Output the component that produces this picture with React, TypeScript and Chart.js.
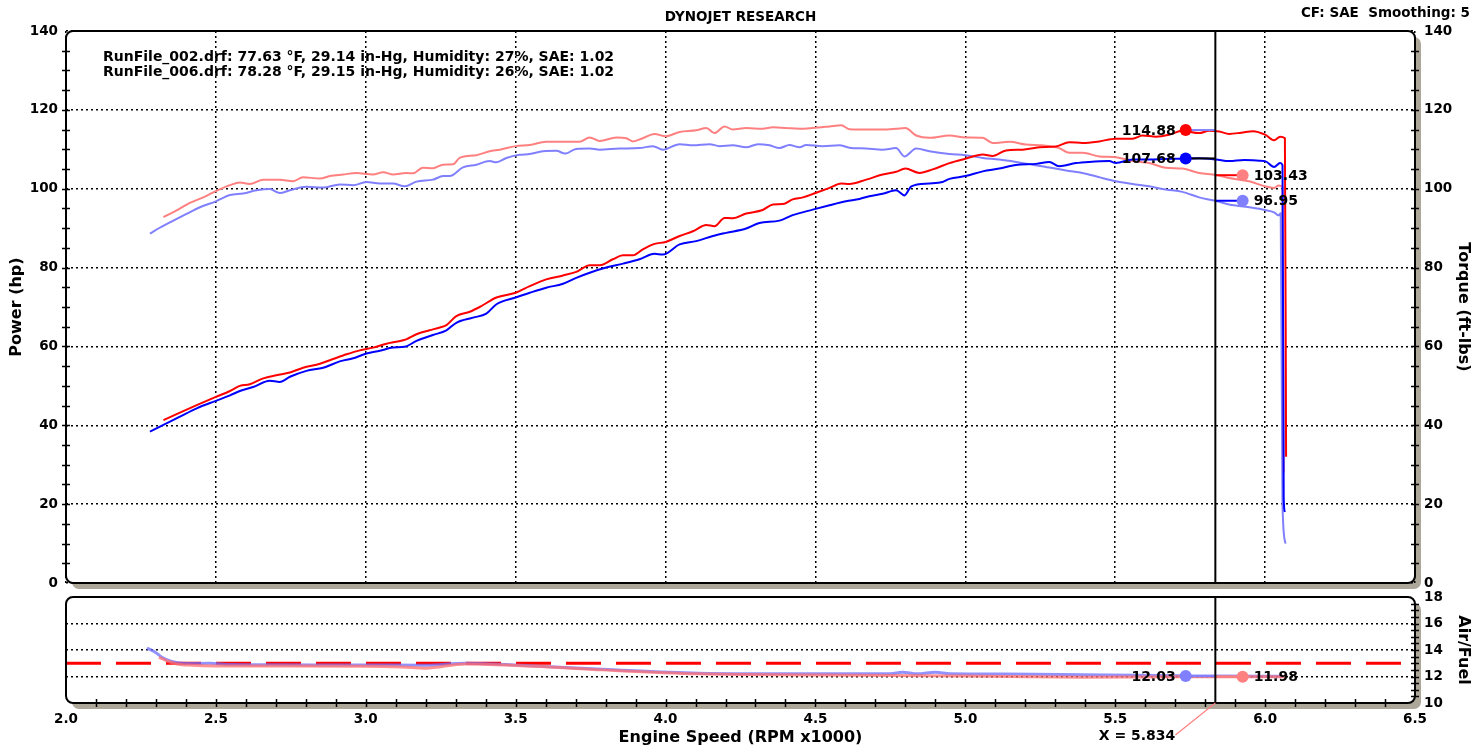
import React, { useEffect, useRef } from "react";
import { Chart, registerables } from "chart.js";

Chart.register(...registerables);

const FONT_FAMILY = "'DejaVu Sans', Verdana, sans-serif";

// ---------- Data (RPM x1000) ----------
// RunFile_002 power (hp)
const rpmHp002 = [2.325, 2.38, 2.436, 2.5, 2.547, 2.58, 2.613, 2.658, 2.702, 2.747, 2.791, 2.847, 2.891, 2.936, 2.98, 3.024, 3.069, 3.102, 3.135, 3.169, 3.213, 3.247, 3.269, 3.302, 3.347, 3.38, 3.436, 3.5, 3.547, 3.602, 3.658, 3.702, 3.747, 3.78, 3.824, 3.858, 3.891, 3.924, 3.963, 4.0, 4.047, 4.091, 4.136, 4.163, 4.197, 4.224, 4.269, 4.324, 4.358, 4.391, 4.424, 4.458, 4.5, 4.547, 4.586, 4.613, 4.669, 4.724, 4.769, 4.8, 4.847, 4.891, 4.947, 5.0, 5.058, 5.091, 5.136, 5.191, 5.247, 5.302, 5.347, 5.391, 5.447, 5.502, 5.558, 5.591, 5.636, 5.68, 5.724, 5.78, 5.813, 5.847, 5.88, 5.92, 5.96, 6.0, 6.03, 6.05, 6.066, 6.07];
const hp002 = [41.3, 43.2, 45.1, 47.2, 48.7, 50.0, 50.4, 51.9, 52.7, 53.4, 54.6, 55.6, 56.8, 58.0, 59.0, 59.7, 60.7, 61.2, 61.8, 63.1, 64.1, 64.8, 65.4, 67.7, 68.8, 70.0, 72.4, 73.6, 75.3, 77.0, 78.0, 78.9, 80.6, 80.6, 82.1, 83.1, 83.1, 84.6, 86.0, 86.5, 88.0, 89.2, 90.8, 90.5, 92.6, 92.5, 93.7, 94.6, 96.0, 96.1, 97.3, 97.8, 98.9, 100.2, 101.3, 101.2, 102.3, 103.6, 104.3, 105.1, 104.0, 104.9, 106.5, 107.6, 108.7, 108.3, 109.7, 109.9, 110.5, 110.7, 111.8, 111.6, 112.0, 112.7, 112.7, 113.5, 113.2, 113.7, 114.7, 114.1, 114.7, 114.5, 113.9, 114.2, 114.6, 113.7, 112.3, 113.2, 112.8, 32.0];

// RunFile_006 power (hp)
const rpmHp006 = [2.28, 2.325, 2.38, 2.436, 2.5, 2.547, 2.58, 2.624, 2.68, 2.713, 2.747, 2.802, 2.858, 2.913, 2.958, 3.002, 3.047, 3.091, 3.13, 3.169, 3.224, 3.269, 3.302, 3.358, 3.402, 3.436, 3.5, 3.547, 3.602, 3.658, 3.702, 3.747, 3.802, 3.858, 3.913, 3.963, 3.991, 4.047, 4.102, 4.158, 4.202, 4.269, 4.313, 4.38, 4.424, 4.491, 4.547, 4.602, 4.647, 4.68, 4.724, 4.769, 4.797, 4.82, 4.88, 4.924, 4.947, 5.0, 5.058, 5.113, 5.169, 5.236, 5.28, 5.313, 5.369, 5.413, 5.48, 5.502, 5.558, 5.613, 5.68, 5.724, 5.78, 5.836, 5.88, 5.93, 5.98, 6.0, 6.03, 6.05, 6.058, 6.062, 6.066];
const hp006 = [38.4, 40.1, 42.2, 44.3, 46.2, 47.6, 48.7, 49.7, 51.3, 51.0, 52.3, 53.8, 54.6, 56.2, 57.0, 58.2, 58.9, 59.7, 59.9, 61.4, 62.9, 64.1, 66.0, 67.3, 68.3, 70.7, 72.4, 73.6, 74.9, 75.9, 77.4, 78.7, 80.0, 81.0, 82.1, 83.5, 83.3, 85.9, 86.7, 88.0, 88.8, 89.9, 91.3, 91.9, 93.3, 94.7, 95.8, 96.8, 97.4, 98.1, 98.7, 99.6, 98.3, 100.6, 101.3, 101.7, 102.5, 103.2, 104.4, 105.1, 106.0, 106.3, 106.8, 105.7, 106.5, 106.8, 107.0, 106.5, 107.4, 107.4, 107.6, 107.6, 107.7, 107.4, 107.0, 107.3, 107.1, 107.0, 105.5, 106.5, 106.0, 21.5, 18.0];

// RunFile_002 torque (ft-lbs)
const rpmTq002 = [2.325, 2.369, 2.413, 2.458, 2.5, 2.547, 2.58, 2.613, 2.658, 2.713, 2.758, 2.79, 2.847, 2.88, 2.924, 2.969, 3.024, 3.058, 3.091, 3.135, 3.158, 3.19, 3.224, 3.258, 3.291, 3.313, 3.369, 3.413, 3.447, 3.5, 3.547, 3.602, 3.658, 3.713, 3.747, 3.78, 3.836, 3.869, 3.891, 3.924, 3.963, 4.0, 4.047, 4.102, 4.136, 4.163, 4.197, 4.224, 4.269, 4.324, 4.358, 4.402, 4.447, 4.491, 4.547, 4.586, 4.613, 4.669, 4.724, 4.769, 4.8, 4.836, 4.88, 4.947, 5.0, 5.058, 5.091, 5.147, 5.202, 5.258, 5.313, 5.347, 5.391, 5.447, 5.502, 5.558, 5.613, 5.669, 5.724, 5.78, 5.836, 5.88, 5.947, 6.0, 6.03, 6.045, 6.058, 6.062];
const tq002 = [92.8, 94.5, 96.4, 97.8, 99.4, 100.9, 101.6, 101.2, 102.3, 102.3, 101.9, 102.9, 102.6, 103.2, 103.6, 104.0, 103.6, 104.2, 103.6, 104.0, 103.9, 105.3, 105.2, 106.1, 106.2, 107.8, 108.5, 109.5, 109.9, 110.8, 111.1, 111.9, 111.9, 111.9, 113.0, 112.1, 113.0, 112.8, 112.0, 112.8, 113.9, 113.3, 114.4, 114.8, 115.4, 114.1, 115.8, 115.0, 115.4, 115.2, 115.6, 115.4, 115.2, 115.4, 115.8, 116.1, 115.1, 115.0, 115.0, 115.2, 115.4, 113.5, 112.9, 113.5, 113.0, 112.9, 111.6, 111.9, 111.2, 111.0, 110.3, 109.1, 109.1, 108.2, 108.0, 107.0, 106.5, 105.3, 105.1, 104.0, 103.5, 102.7, 101.9, 100.6, 100.2, 100.8, 100.4, 28.0];

// RunFile_006 torque (ft-lbs)
const rpmTq006 = [2.28, 2.313, 2.358, 2.402, 2.447, 2.5, 2.547, 2.591, 2.636, 2.68, 2.713, 2.747, 2.802, 2.858, 2.913, 2.958, 3.002, 3.047, 3.091, 3.13, 3.169, 3.224, 3.258, 3.28, 3.324, 3.369, 3.413, 3.436, 3.469, 3.513, 3.547, 3.591, 3.636, 3.665, 3.702, 3.747, 3.78, 3.847, 3.913, 3.958, 3.991, 4.047, 4.091, 4.147, 4.18, 4.224, 4.269, 4.308, 4.347, 4.38, 4.413, 4.447, 4.469, 4.524, 4.58, 4.613, 4.669, 4.724, 4.769, 4.797, 4.836, 4.88, 4.947, 5.0, 5.058, 5.113, 5.169, 5.224, 5.28, 5.336, 5.391, 5.447, 5.502, 5.558, 5.613, 5.669, 5.724, 5.78, 5.836, 5.88, 5.947, 6.0, 6.03, 6.045, 6.052, 6.058, 6.068];
const tq006 = [88.6, 90.1, 91.9, 93.6, 95.3, 96.8, 98.4, 98.8, 99.6, 99.9, 98.9, 99.6, 100.5, 100.3, 101.1, 100.9, 101.7, 101.3, 101.3, 100.6, 101.8, 102.3, 103.2, 103.2, 105.4, 106.1, 107.0, 106.7, 107.8, 108.6, 108.8, 109.5, 109.6, 108.9, 110.1, 110.2, 109.9, 110.2, 110.3, 110.8, 109.9, 111.3, 111.0, 111.3, 110.8, 111.0, 110.5, 111.3, 111.0, 110.3, 111.1, 110.5, 111.1, 110.8, 111.0, 110.4, 110.2, 109.9, 110.3, 108.2, 110.2, 109.5, 108.8, 108.5, 107.8, 107.4, 106.8, 106.1, 105.4, 104.6, 104.0, 102.9, 101.9, 101.2, 100.6, 99.8, 99.2, 97.8, 96.9, 96.0, 95.3, 94.6, 94.0, 93.2, 93.8, 20.0, 10.0];

// Air/Fuel
const rpmAfr006 = [2.27, 2.3, 2.32, 2.35, 2.4, 2.48, 2.55, 2.7, 3.0, 3.2, 3.33, 3.56, 3.79, 4.11, 4.5, 4.75, 4.79, 4.84, 4.9, 4.95, 5.13, 5.39, 5.73, 5.834, 6.06];
const afr006 = [14.15, 13.8, 13.45, 13.15, 12.98, 13.0, 12.9, 12.88, 12.87, 12.85, 13.0, 12.8, 12.55, 12.25, 12.2, 12.2, 12.33, 12.2, 12.33, 12.2, 12.18, 12.13, 12.05, 12.03, 12.02];
const rpmAfr002 = [2.31, 2.34, 2.37, 2.42, 2.5, 2.7, 3.0, 3.12, 3.2, 3.33, 3.56, 3.79, 4.11, 4.5, 5.0, 5.39, 5.73, 5.834, 6.07];
const afr002 = [13.45, 13.15, 12.95, 12.85, 12.8, 12.8, 12.78, 12.72, 12.63, 12.95, 12.78, 12.5, 12.2, 12.12, 12.03, 11.95, 11.98, 11.98, 11.98];
const rpmAfrTarget = [2.0, 6.5];
const afrTarget = [13.0, 13.0];

// Cursor readout
const cursorRpm = 5.834;
const readoutRpmLeft = 5.735;
const readoutRpmRight = 5.925;
const readHp002 = 114.88;
const readHp006 = 107.68;
const readTq002 = 103.43;
const readTq006 = 96.95;
const readAfr006 = 12.03;
const readAfr002 = 11.98;

const chartTitle = "DYNOJET RESEARCH";
const cfText = "CF: SAE  Smoothing: 5";
const runFileLines = [
  "RunFile_002.drf: 77.63 \u00B0F, 29.14 in-Hg, Humidity: 27%, SAE: 1.02",
  "RunFile_006.drf: 78.28 \u00B0F, 29.15 in-Hg, Humidity: 26%, SAE: 1.02",
];

// ---------- Styling ----------
const RED = "#ff0000";
const BLUE = "#0000ff";
const LRED = "#ff8080";
const LBLUE = "#8080ff";
const SHADOW = "#aca799";
const W = 1476;
const TOP_H = 601;
const BOT_TOP = 579;
const BOT_H = 168;

const font = (size: number) => ({ family: FONT_FAMILY, size, weight: "bold" as const });
const zip = (xs: number[], ys: number[]) => xs.map((x, i) => ({ x, y: ys[i] }));

function roundRectPath(ctx: CanvasRenderingContext2D, x: number, y: number, w: number, h: number, r: number) {
  ctx.beginPath();
  ctx.moveTo(x + r, y);
  ctx.arcTo(x + w, y, x + w, y + h, r);
  ctx.arcTo(x + w, y + h, x, y + h, r);
  ctx.arcTo(x, y + h, x, y, r);
  ctx.arcTo(x, y, x + w, y, r);
  ctx.closePath();
}

function panelBackground(chart: any) {
  const { ctx, chartArea: a } = chart;
  ctx.save();
  roundRectPath(ctx, a.left + 6, a.top + 6, a.right - a.left, a.bottom - a.top, 7);
  ctx.fillStyle = SHADOW;
  ctx.fill();
  roundRectPath(ctx, a.left, a.top, a.right - a.left, a.bottom - a.top, 7);
  ctx.fillStyle = "#ffffff";
  ctx.fill();
  ctx.restore();
}

function panelFrame(chart: any) {
  const { ctx, chartArea: a } = chart;
  ctx.save();
  roundRectPath(ctx, a.left, a.top, a.right - a.left, a.bottom - a.top, 7);
  ctx.strokeStyle = "#000";
  ctx.lineWidth = 2;
  ctx.stroke();
  ctx.restore();
}

function yTicks(chart: any, scaleId: string, x: number, from: number, to: number, step: number) {
  const { ctx } = chart;
  const s = chart.scales[scaleId];
  ctx.save();
  ctx.strokeStyle = "#000";
  ctx.lineWidth = 1.5;
  ctx.beginPath();
  const n = Math.round((to - from) / step);
  for (let i = 1; i < n; i++) {
    const y = Math.round(s.getPixelForValue(from + i * step)) + 0.5;
    ctx.moveTo(x - 4, y);
    ctx.lineTo(x + 4, y);
  }
  ctx.stroke();
  ctx.restore();
}

function xTicks(chart: any, y: number, from: number, to: number, step: number) {
  const { ctx } = chart;
  const s = chart.scales.x;
  ctx.save();
  ctx.strokeStyle = "#000";
  ctx.lineWidth = 1.5;
  ctx.beginPath();
  const n = Math.round((to - from) / step);
  for (let i = 1; i < n; i++) {
    const x = Math.round(s.getPixelForValue(from + i * step)) + 0.5;
    ctx.moveTo(x, y - 4);
    ctx.lineTo(x, y + 4);
  }
  ctx.stroke();
  ctx.restore();
}

function cursorLine(chart: any) {
  const { ctx, chartArea: a } = chart;
  const x = chart.scales.x.getPixelForValue(cursorRpm);
  ctx.save();
  ctx.strokeStyle = "#000";
  ctx.lineWidth = 2;
  ctx.beginPath();
  ctx.moveTo(x, a.top);
  ctx.lineTo(x, a.bottom);
  ctx.stroke();
  ctx.restore();
}

function valueLabel(chart: any, scaleId: string, rpm: number, val: number, side: "left" | "right") {
  const { ctx } = chart;
  const x = chart.scales.x.getPixelForValue(rpm);
  const y = chart.scales[scaleId].getPixelForValue(val);
  ctx.save();
  ctx.font = `bold 14px ${FONT_FAMILY}`;
  ctx.fillStyle = "#000";
  ctx.textBaseline = "middle";
  if (side === "left") {
    ctx.textAlign = "right";
    ctx.fillText(val.toFixed(2), x - 10, y + 1);
  } else {
    ctx.textAlign = "left";
    ctx.fillText(val.toFixed(2), x + 11, y + 1);
  }
  ctx.restore();
}

const topPlugin = {
  id: "topPanel",
  beforeDraw(chart: any) {
    panelBackground(chart);
  },
  afterDatasetsDraw(chart: any) {
    cursorLine(chart);
    valueLabel(chart, "y", readoutRpmLeft, readHp002, "left");
    valueLabel(chart, "y", readoutRpmLeft, readHp006, "left");
    valueLabel(chart, "y2", readoutRpmRight, readTq002, "right");
    valueLabel(chart, "y2", readoutRpmRight, readTq006, "right");
  },
  afterDraw(chart: any) {
    const { ctx, chartArea: a } = chart;
    panelFrame(chart);
    yTicks(chart, "y", a.left, 0, 140, 5);
    yTicks(chart, "y2", a.right, 0, 140, 5);
    ctx.save();
    ctx.fillStyle = "#000";
    ctx.textBaseline = "middle";
    ctx.font = `bold 13.5px ${FONT_FAMILY}`;
    ctx.textAlign = "center";
    ctx.fillText(chartTitle, (a.left + a.right) / 2, 17);
    ctx.textAlign = "right";
    ctx.fillText(cfText, W - 6, 13);
    ctx.textAlign = "left";
    ctx.font = `bold 14px ${FONT_FAMILY}`;
    runFileLines.forEach((t, i) => ctx.fillText(t, 103, 57 + i * 15));
    ctx.restore();
  },
};

const bottomPlugin = {
  id: "bottomPanel",
  beforeDraw(chart: any) {
    panelBackground(chart);
  },
  afterDatasetsDraw(chart: any) {
    cursorLine(chart);
    valueLabel(chart, "yr", readoutRpmLeft, readAfr006, "left");
    valueLabel(chart, "yr", readoutRpmRight, readAfr002, "right");
  },
  afterDraw(chart: any) {
    const { ctx, chartArea: a } = chart;
    panelFrame(chart);
    yTicks(chart, "yr", a.right, 10, 18, 0.5);
    xTicks(chart, a.bottom, 2, 6.5, 0.1);
    const cx = chart.scales.x.getPixelForValue(cursorRpm);
    ctx.save();
    ctx.strokeStyle = LRED;
    ctx.lineWidth = 1.2;
    ctx.beginPath();
    ctx.moveTo(cx, a.bottom);
    ctx.lineTo(cx - 40, a.bottom + 32);
    ctx.stroke();
    ctx.fillStyle = "#000";
    ctx.font = `bold 14px ${FONT_FAMILY}`;
    ctx.textAlign = "right";
    ctx.textBaseline = "middle";
    ctx.fillText(`X = ${cursorRpm.toFixed(3)}`, cx - 40, a.bottom + 33);
    ctx.restore();
  },
};

const curve = (data: any[], color: string, width: number, yAxisID: string) => ({
  data,
  borderColor: color,
  backgroundColor: color,
  borderWidth: width,
  pointRadius: 0,
  fill: false,
  cubicInterpolationMode: "monotone",
  yAxisID,
});

const dot = (x: number, y: number, color: string, yAxisID: string) => ({
  data: [{ x, y }],
  showLine: false,
  pointRadius: 6,
  pointHoverRadius: 6,
  pointBorderWidth: 0,
  pointBackgroundColor: color,
  borderColor: color,
  backgroundColor: color,
  yAxisID,
});

const dottedGrid = { display: false, dash: [2, 3] };

export default function App() {
  const topRef = useRef<HTMLCanvasElement | null>(null);
  const botRef = useRef<HTMLCanvasElement | null>(null);

  useEffect(() => {
    const top = new Chart(topRef.current as HTMLCanvasElement, {
      type: "line",
      data: {
        datasets: [
          dot(readoutRpmLeft, readHp002, RED, "y"),
          dot(readoutRpmLeft, readHp006, BLUE, "y"),
          dot(readoutRpmRight, readTq002, LRED, "y2"),
          dot(readoutRpmRight, readTq006, LBLUE, "y2"),
          curve([{ x: readoutRpmLeft, y: readHp002 }, { x: cursorRpm, y: readHp002 }], LBLUE, 2, "y"),
          curve([{ x: readoutRpmLeft, y: readHp006 }, { x: cursorRpm, y: readHp006 }], "#000", 2, "y"),
          curve([{ x: cursorRpm, y: readTq002 }, { x: readoutRpmRight, y: readTq002 }], RED, 2, "y2"),
          curve([{ x: cursorRpm, y: readTq006 }, { x: readoutRpmRight, y: readTq006 }], BLUE, 2, "y2"),
          curve(zip(rpmHp002, hp002), RED, 2, "y"),
          curve(zip(rpmHp006, hp006), BLUE, 2, "y"),
          curve(zip(rpmTq002, tq002), LRED, 2, "y2"),
          curve(zip(rpmTq006, tq006), LBLUE, 2, "y2"),
        ] as any,
      },
      options: {
        animation: false,
        responsive: false,
        devicePixelRatio: 1,
        layout: { padding: { top: 31, bottom: 18, left: 0, right: 0 } },
        plugins: { legend: { display: false }, tooltip: { enabled: false } },
        scales: {
          x: {
            type: "linear",
            min: 2,
            max: 6.5,
            ticks: { display: false, stepSize: 0.5 },
            grid: { color: "#000", lineWidth: 1.5, drawTicks: false },
            border: dottedGrid,
            afterFit: (s: any) => { s.height = 0; },
          },
          y: {
            type: "linear",
            position: "left",
            min: 0,
            max: 140,
            ticks: { stepSize: 20, color: "#000", font: font(13.5), padding: 8 },
            grid: { color: "#000", lineWidth: 1.5, drawTicks: false },
            border: dottedGrid,
            title: { display: true, text: "Power (hp)", color: "#000", font: font(16), padding: { top: 7, bottom: 0 } },
            afterFit: (s: any) => { s.width = 66; },
          },
          y2: {
            type: "linear",
            position: "right",
            min: 0,
            max: 140,
            ticks: { stepSize: 20, color: "#000", font: font(13.5), padding: 9 },
            grid: { drawOnChartArea: false, drawTicks: false },
            border: { display: false },
            title: { display: true, text: "Torque (ft-lbs)", color: "#000", font: font(16), padding: { top: 3, bottom: 0 } },
            afterFit: (s: any) => { s.width = 61; },
          },
        },
      } as any,
      plugins: [topPlugin],
    });

    const bottom = new Chart(botRef.current as HTMLCanvasElement, {
      type: "line",
      data: {
        datasets: [
          dot(readoutRpmLeft, readAfr006, LBLUE, "yr"),
          dot(readoutRpmRight, readAfr002, LRED, "yr"),
          curve([{ x: readoutRpmLeft, y: readAfr006 }, { x: cursorRpm, y: readAfr006 }], LBLUE, 2, "yr"),
          curve([{ x: cursorRpm, y: readAfr002 }, { x: readoutRpmRight, y: readAfr002 }], LRED, 2, "yr"),
          curve(zip(rpmAfr002, afr002), "rgba(255,110,110,0.75)", 3, "yr"),
          curve(zip(rpmAfr006, afr006), "rgba(110,110,255,0.75)", 3, "yr"),
          { ...curve(zip(rpmAfrTarget, afrTarget), RED, 3, "yr"), borderDash: [35, 15] },
        ] as any,
      },
      options: {
        animation: false,
        responsive: false,
        devicePixelRatio: 1,
        layout: { padding: { top: 18, bottom: 0, left: 0, right: 0 } },
        plugins: { legend: { display: false }, tooltip: { enabled: false } },
        scales: {
          x: {
            type: "linear",
            min: 2,
            max: 6.5,
            ticks: {
              stepSize: 0.5,
              color: "#000",
              font: font(13.5),
              padding: 8,
              autoSkip: false,
              maxRotation: 0,
              callback: (v: any) => Number(v).toFixed(1),
            },
            grid: { display: false, drawTicks: false },
            border: { display: false },
            title: { display: true, text: "Engine Speed (RPM x1000)", color: "#000", font: font(16), padding: { top: 0, bottom: 0 } },
            afterFit: (s: any) => { s.height = 44; },
          },
          yl: {
            type: "linear",
            position: "left",
            min: 10,
            max: 18,
            ticks: { display: false },
            grid: { display: false, drawTicks: false },
            border: { display: false },
            afterFit: (s: any) => { s.width = 66; },
          },
          yr: {
            type: "linear",
            position: "right",
            min: 10,
            max: 18,
            ticks: { stepSize: 2, color: "#000", font: font(13.5), padding: 9 },
            grid: {
              color: (c: any) => (c.tick && c.tick.value > 10 && c.tick.value < 18 ? "#000" : "rgba(0,0,0,0)"),
              lineWidth: 1.5,
              drawTicks: false,
            },
            border: dottedGrid,
            title: { display: true, text: "Air/Fuel", color: "#000", font: font(16), padding: { top: 3, bottom: 0 } },
            afterFit: (s: any) => { s.width = 61; },
          },
        },
      } as any,
      plugins: [bottomPlugin],
    });

    return () => {
      top.destroy();
      bottom.destroy();
    };
  }, []);

  return (
    <div style={{ position: "absolute", left: 0, top: 0, width: W, height: 747, background: "#fff", overflow: "hidden" }}>
      <canvas ref={topRef} width={W} height={TOP_H} style={{ position: "absolute", left: 0, top: 0, width: W, height: TOP_H }} />
      <canvas ref={botRef} width={W} height={BOT_H} style={{ position: "absolute", left: 0, top: BOT_TOP, width: W, height: BOT_H }} />
    </div>
  );
}
